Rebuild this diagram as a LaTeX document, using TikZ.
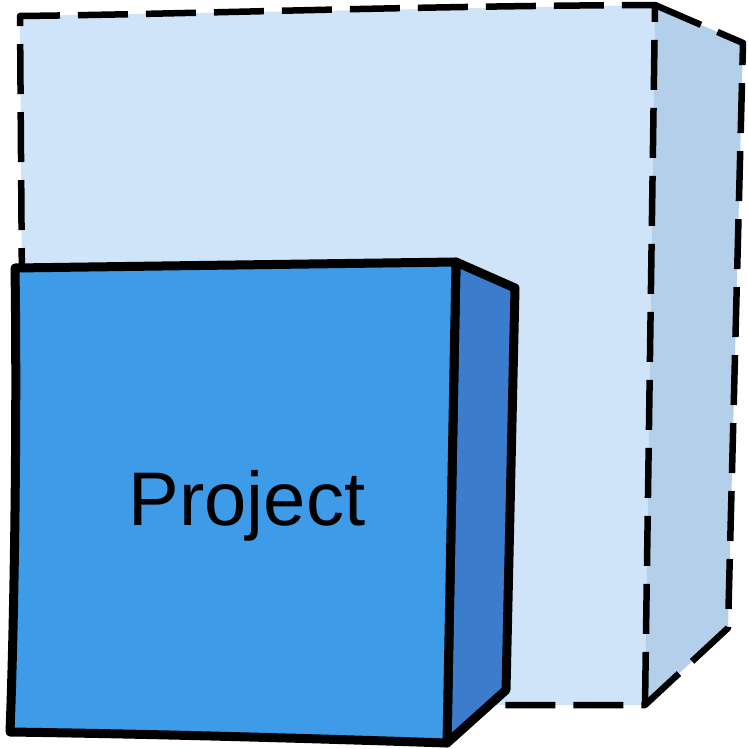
\documentclass[tikz,border=0pt]{standalone}
\usepackage{fontspec}
\setmainfont{Liberation Sans}
\definecolor{bigfront}{HTML}{CFE4F8}
\definecolor{bigside}{HTML}{B4CFEA}
\definecolor{smallfront}{HTML}{3D9BE8}
\definecolor{smallside}{HTML}{3B7DCC}
\tikzset{
  ghost/.style={draw=black, line width=6.5pt, dash pattern=on 50pt off 18pt, line join=round},
  solidcube/.style={draw=black, line width=9pt, line join=round},
}
\begin{document}
\begin{tikzpicture}[x=1pt,y=-1pt]
\useasboundingbox (0,0) rectangle (747,749);
% big dashed cube
\coordinate (bA) at (20,16);
\coordinate (bB) at (655,5);
\coordinate (bC) at (743,43);
\coordinate (bD) at (728,628);
\coordinate (bE) at (645,705);
\coordinate (bF) at (25,706);
\fill[bigfront] (bA) -- (bB) -- (bE) -- (bF) -- cycle;
\fill[bigside] (bB) -- (bC) -- (bD) -- (bE) -- cycle;
\draw[ghost] (bF) -- (bA) .. controls (200,14) and (400,6) .. (bB) -- (bE);
\draw[ghost] (bB) -- (bC) -- (bD) -- (bE) -- (bF);
% small solid cube
\coordinate (sA) at (15,268);
\coordinate (sB) at (456,262);
\coordinate (sC) at (515,288);
\coordinate (sD) at (506,690);
\coordinate (sE) at (447,743);
\coordinate (sF) at (10,732);
\filldraw[solidcube, fill=smallside] (sB) -- (sC) -- (sD) -- (sE) -- cycle;
\filldraw[solidcube, fill=smallfront] (sA) -- (sB) -- (sE) .. controls (300,738) and (150,734) .. (sF) .. controls (15,600) and (17,400) .. cycle;
\node[font=\fontsize{76}{82}\selectfont] (label) at (247,506) {Project};
\end{tikzpicture}
\end{document}
